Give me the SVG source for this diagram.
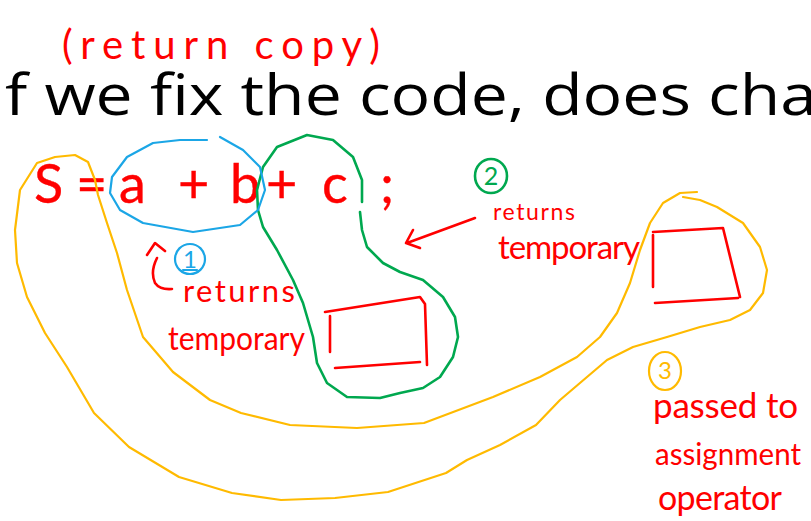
<svg xmlns="http://www.w3.org/2000/svg" width="811" height="521" viewBox="0 0 811 521">
<style>
.ink{fill:none;stroke-linecap:round;stroke-linejoin:round}
.red{stroke:#ff0000;stroke-width:2.6}
.yel{stroke:#ffba00;stroke-width:2.2}
.grn{stroke:#00a84f;stroke-width:2.6}
.blu{stroke:#1ba6e6;stroke-width:2.2}
.hw{font-family:Lato,"Liberation Sans",Arial,sans-serif;font-weight:400;fill:#ff0000}
.num{font-family:Lato,"Liberation Sans",Arial,sans-serif;font-weight:400;text-anchor:middle}
.title{font-family:"Open Sans","Noto Sans","Liberation Sans",sans-serif;fill:#000}
</style>
<rect width="811" height="521" fill="#ffffff"/>
<g id="title">
<text class="title" x="5" y="115" font-size="57" textLength="812" lengthAdjust="spacingAndGlyphs">f we fix the code, does cha</text>
</g>
<g id="note-return-copy">
<text class="hw" x="62" y="59" font-size="40" textLength="318" lengthAdjust="spacing">(return copy)</text>
</g>
<g id="expression">
<text class="hw" y="203" font-size="54" stroke="#ff0000" stroke-width="0.4"><tspan x="34">S</tspan><tspan x="76">=</tspan><tspan x="119">a</tspan><tspan x="178">+</tspan><tspan x="230">b</tspan><tspan x="266">+</tspan><tspan x="322">c</tspan><tspan x="380">;</tspan></text>
</g>
<g id="loops">
<path id="yellow-loop" class="ink yel" d="M683,197 L700,200 L717,207 L743,223 L760,247 L767,270 L763,293 L750,310 L730,320 L700,327 L667,337 L633,347 L607,360 L587,377 L560,400 L536,425 L500,445 L467,460 L446,473 L388,492 L335,498 L281,500 L232,493 L179,477 L129,447 L94,413 L67,367 L45,333 L27,297 L17,263 L15,230 L20,190 L37,163 L55,157 L75,155 L88,162 L95,180 L98,195 L107,223 L117,253 L127,290 L143,337 L173,372 L210,400 L241,413 L290,425 L357,428 L424,423 L493,397 L540,377 L577,357 L600,337 L617,313 L630,283 L640,250 L650,223 L663,203 L680,193 L697,192"/>
<path id="green-loop" class="ink grn" d="M362,202 L362,180 L353,157 L333,140 L307,135 L277,147 L263,167 L257,190 L258,210 L263,227 L277,250 L293,280 L303,303 L313,337 L317,363 L327,383 L347,397 L380,398 L400,393 L423,388 L440,377 L453,357 L458,337 L455,317 L443,297 L423,280 L400,272 L383,263 L367,247 L362,230 L360,212"/>
<path id="blue-loop" class="ink blu" d="M207,140 L180,140 L153,143 L127,157 L112,177 L110,193 L120,210 L143,223 L193,232 L240,225 L258,210 L265,190 L260,167 L243,150 L220,137"/>
</g>
<g id="step1">
<ellipse class="ink blu" cx="190" cy="259" rx="15" ry="15"/>
<text class="num" x="190" y="268" font-size="24" fill="#1ba6e6">1</text>
<path class="ink blu" d="M183,270 L197,270" stroke-width="1.6"/>
<path class="ink red" d="M147,255 L155,243 L165,251 M157,258 Q150,272 155,283 Q160,290 172,289"/>
<text class="hw" x="183" y="302" font-size="31" textLength="112" lengthAdjust="spacing">returns</text>
<text class="hw" x="168" y="350" font-size="33" textLength="137" lengthAdjust="spacingAndGlyphs">temporary</text>
<path id="box1" class="ink red" d="M325,312 L420,297 L425,304 L427,365 M330,316 L330,352 M335,368 L420,362"/>
</g>
<g id="step2">
<ellipse class="ink grn" cx="491" cy="176" rx="16" ry="17"/>
<text class="num" x="491" y="185" font-size="25" fill="#00a84f">2</text>
<path class="ink red" d="M475,218 L407,243 M413,230 L406,243 L420,248"/>
<text class="hw" x="493" y="220" font-size="23" textLength="82" lengthAdjust="spacing">returns</text>
<text class="hw" x="498" y="259" font-size="33" textLength="142" lengthAdjust="spacing">temporary</text>
<path id="box2" class="ink red" d="M653,232 L723,228 L740,297 M653,235 L653,287 M655,303 L738,298"/>
</g>
<g id="step3">
<ellipse class="ink yel" cx="665" cy="371" rx="16" ry="19"/>
<text class="num" x="665" y="379" font-size="24" fill="#ffba00">3</text>
<text class="hw" x="653" y="418" font-size="35" textLength="145" lengthAdjust="spacing">passed to</text>
<text class="hw" x="655" y="465" font-size="31" textLength="146" lengthAdjust="spacingAndGlyphs">assignment</text>
<text class="hw" x="658" y="510" font-size="34" textLength="124" lengthAdjust="spacing">operator</text>
</g>
</svg>
